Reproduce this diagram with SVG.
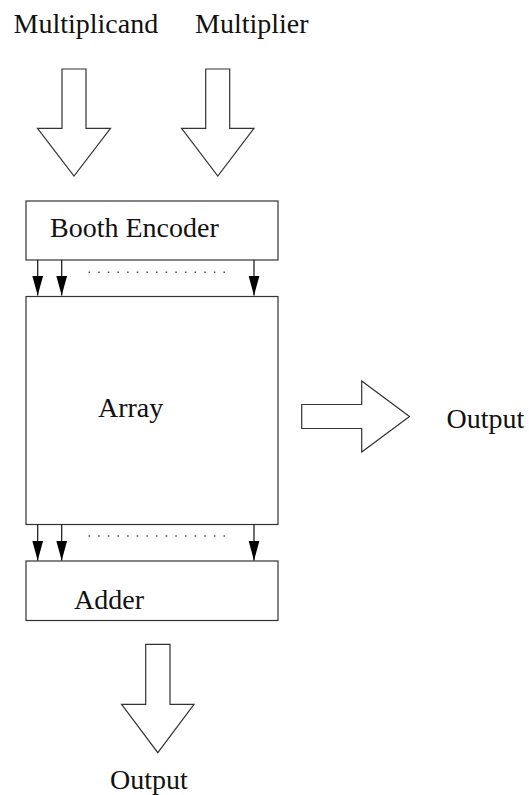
<svg xmlns="http://www.w3.org/2000/svg" width="529" height="795" viewBox="0 0 529 795">
  <style>
    .box { fill: #ffffff; stroke: #333333; stroke-width: 1.2; }
    .fat { fill: #ffffff; stroke: #333333; stroke-width: 1.2; stroke-linejoin: miter; }
    .wire { stroke: #111111; stroke-width: 1.2; fill: none; }
    .dots { stroke: #555555; stroke-width: 1.6; stroke-dasharray: 1.6 8.04; fill: none; }
    .lbl { font-family: 'Liberation Serif', 'Times New Roman', Times, serif; font-size: 28px; fill: #111111; }
  </style>
  <defs>
    <!-- solid arrowhead drawn along +x, rotated by the line direction -->
    <marker id="head" markerUnits="userSpaceOnUse" markerWidth="21" markerHeight="12" viewBox="0 0 21 12" refX="20" refY="6" orient="auto">
      <path d="M0,0.5 L20,6 L0,11.5 Z" fill="#000000"/>
    </marker>
  </defs>

  <rect width="529" height="795" fill="#ffffff"/>

  <!-- input labels and wide inlet arrows -->
  <g id="multiplicand">
    <text class="lbl" x="13.5" y="33">Multiplicand</text>
    <polygon class="fat" points="62,69 86,69 86,128.3 110.5,128.3 74,176 37.5,128.3 62,128.3"/>
  </g>
  <g id="multiplier">
    <text class="lbl" x="195" y="33">Multiplier</text>
    <polygon class="fat" points="205.7,69 229.7,69 229.7,128.3 254,128.3 217.8,176 181.6,128.3 205.7,128.3"/>
  </g>

  <g id="booth-encoder">
    <rect class="box" x="26" y="201" width="252" height="59"/>
    <text class="lbl" x="50" y="237">Booth Encoder</text>
  </g>

  <g id="array">
    <rect class="box" x="26" y="296.5" width="252" height="228"/>
    <text class="lbl" x="98" y="417">Array</text>
  </g>

  <g id="side-output">
    <polygon class="fat" points="301.7,404.5 361.7,404.5 361.7,381 409.5,416.5 361.7,452 361.7,428.5 301.7,428.5"/>
    <text class="lbl" x="446.5" y="427.5">Output</text>
  </g>

  <g id="adder">
    <rect class="box" x="26" y="561" width="252" height="59.5"/>
    <text class="lbl" x="74" y="609">Adder</text>
  </g>

  <g id="final-output">
    <polygon class="fat" points="145.7,644.3 170,644.3 170,704.3 194,704.3 157.8,752.7 121.6,704.3 145.7,704.3"/>
    <text class="lbl" x="110" y="789">Output</text>
  </g>

  <!-- bit lines between the stages -->
  <g id="connectors">
    <line class="wire" x1="37.7" y1="260" x2="37.7" y2="295.5" marker-end="url(#head)"/>
    <line class="wire" x1="61.7" y1="260" x2="61.7" y2="295.5" marker-end="url(#head)"/>
    <line class="wire" x1="254" y1="260" x2="254" y2="295.5" marker-end="url(#head)"/>
    <line class="dots" x1="88.5" y1="272.3" x2="226" y2="272.3"/>

    <line class="wire" x1="37.7" y1="524.5" x2="37.7" y2="560.5" marker-end="url(#head)"/>
    <line class="wire" x1="61.7" y1="524.5" x2="61.7" y2="560.5" marker-end="url(#head)"/>
    <line class="wire" x1="254" y1="524.5" x2="254" y2="560.5" marker-end="url(#head)"/>
    <line class="dots" x1="88.5" y1="536" x2="226" y2="536"/>
  </g>
</svg>
